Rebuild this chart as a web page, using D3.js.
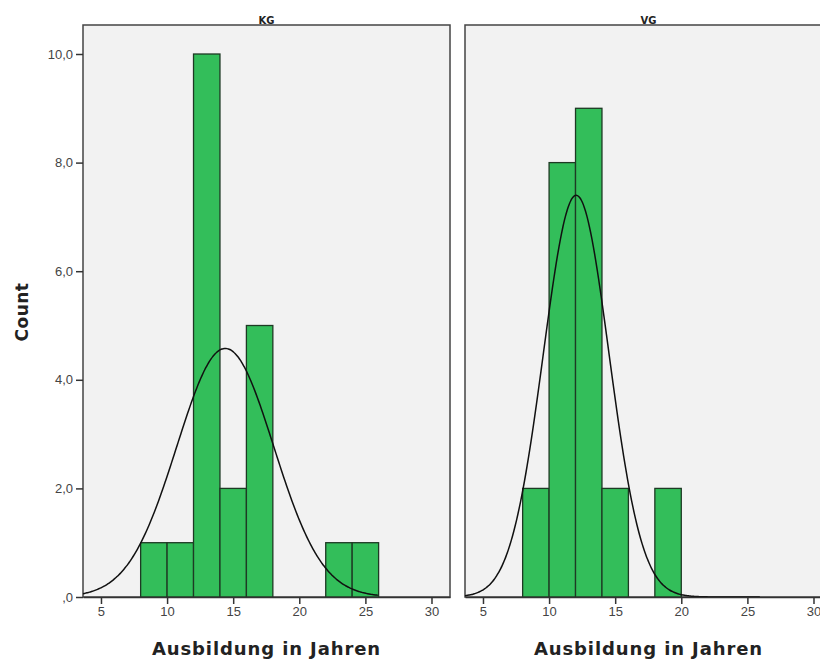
<!DOCTYPE html>
<html>
<head>
<meta charset="utf-8">
<script src="https://cdn.jsdelivr.net/npm/d3@7"></script>
<style>
  body { margin: 0; background: #fff; }
  svg { display: block; font-family: "DejaVu Sans", sans-serif; }
</style>
</head>
<body>
<svg id="chart" width="820" height="659"></svg>
<script>
// histogram bins (lower edge, bin width 2) per group
var groups = ["KG", "VG"];
var binStartsKG = [8, 10, 12, 14, 16, 22, 24];
var countsKG = [1, 1, 10, 2, 5, 1, 1];
var binStartsVG = [8, 10, 12, 14, 18];
var countsVG = [2, 8, 9, 2, 2];
var binWidth = 2;
// normal curve parameters
var meanKG = 14.4, sdKG = 3.66;
var meanVG = 12.05, sdVG = 2.48;
var yTicks = [0, 2, 4, 6, 8, 10];
var xTicks = [5, 10, 15, 20, 25, 30];

var svg = d3.select("#chart");

var panelW = 367, panelTop = 25, panelBottom = 597, gap = 15, left = 83;

var x = d3.scaleLinear().domain([3.64, 31.4]).range([0, panelW]);
var y = d3.scaleLinear().domain([0, 10]).range([panelBottom, 54]);

var fmt = function(v) {
    var s = v.toFixed(1).replace(".", ",");
    return s.replace(/^0,/, ",");
};

var panels = [
    { name: groups[0], starts: binStartsKG, counts: countsKG, mean: meanKG, sd: sdKG },
    { name: groups[1], starts: binStartsVG, counts: countsVG, mean: meanVG, sd: sdVG }
];

panels.forEach(function(p, i) {
    var x0 = left + i * (panelW + gap);
    var g = svg.append("g").attr("transform", "translate(" + x0 + ",0)");

    g.append("rect")
        .attr("x", 0).attr("y", panelTop)
        .attr("width", panelW).attr("height", panelBottom - panelTop)
        .attr("fill", "#f2f2f2")
        .attr("stroke", "#444").attr("stroke-width", 1.5);

    var n = d3.sum(p.counts);
    var bins = p.starts.map(function(s, k) { return { x0: s, x1: s + binWidth, c: p.counts[k] }; });

    g.selectAll("rect.bar")
        .data(bins)
        .enter()
        .append("rect")
        .attr("class", "bar")
        .attr("x", function(d) { return x(d.x0); })
        .attr("y", function(d) { return y(d.c); })
        .attr("width", function(d) { return x(d.x1) - x(d.x0); })
        .attr("height", function(d) { return y(0) - y(d.c); })
        .attr("fill", "#33be5a")
        .attr("stroke", "#1e3a24").attr("stroke-width", 1.3);

    // normal curve scaled to counts
    var pts = d3.range(3.64, 26.01, 0.1).map(function(v) {
        var z = (v - p.mean) / p.sd;
        return [v, n * binWidth * Math.exp(-z * z / 2) / (p.sd * Math.sqrt(2 * Math.PI))];
    });
    var line = d3.line()
        .x(function(d) { return x(d[0]); })
        .y(function(d) { return y(d[1]); })
        .curve(d3.curveBasis);
    g.append("path")
        .attr("d", line(pts))
        .attr("fill", "none")
        .attr("stroke", "#111").attr("stroke-width", 1.5);

    // x axis
    var xa = g.append("g").attr("transform", "translate(0," + panelBottom + ")")
        .call(d3.axisBottom(x).tickValues(xTicks).tickSize(7).tickPadding(3).tickSizeOuter(0));
    xa.select(".domain").attr("stroke", "#333").attr("stroke-width", 1.5);
    xa.selectAll(".tick line").attr("stroke", "#333").attr("stroke-width", 1.5);
    xa.selectAll("text").attr("fill", "#444").style("font-size", "13px");

    g.append("text")
        .attr("x", panelW / 2).attr("y", 24)
        .attr("text-anchor", "middle")
        .style("font-size", "10px").style("font-weight", "bold")
        .attr("fill", "#222")
        .text(p.name);

    g.append("text")
        .attr("x", panelW / 2).attr("y", 655)
        .attr("text-anchor", "middle")
        .style("font-size", "18px").style("font-weight", "bold")
        .style("letter-spacing", "0.9px")
        .attr("fill", "#222")
        .text("Ausbildung in Jahren");
});

// y axis on left panel
var ya = svg.append("g").attr("transform", "translate(" + left + ",0)")
    .call(d3.axisLeft(y).tickValues(yTicks).tickFormat(fmt).tickSize(7).tickPadding(3).tickSizeOuter(0));
ya.select(".domain").remove();
ya.selectAll(".tick line").attr("stroke", "#333").attr("stroke-width", 1.5);
ya.selectAll("text").attr("fill", "#444").style("font-size", "13px");

svg.append("text")
    .attr("transform", "translate(28,312) rotate(-90)")
    .attr("text-anchor", "middle")
    .style("font-size", "17px").style("font-weight", "bold")
    .style("letter-spacing", "0.5px")
    .attr("fill", "#222")
    .text("Count");
</script>
</body>
</html>
